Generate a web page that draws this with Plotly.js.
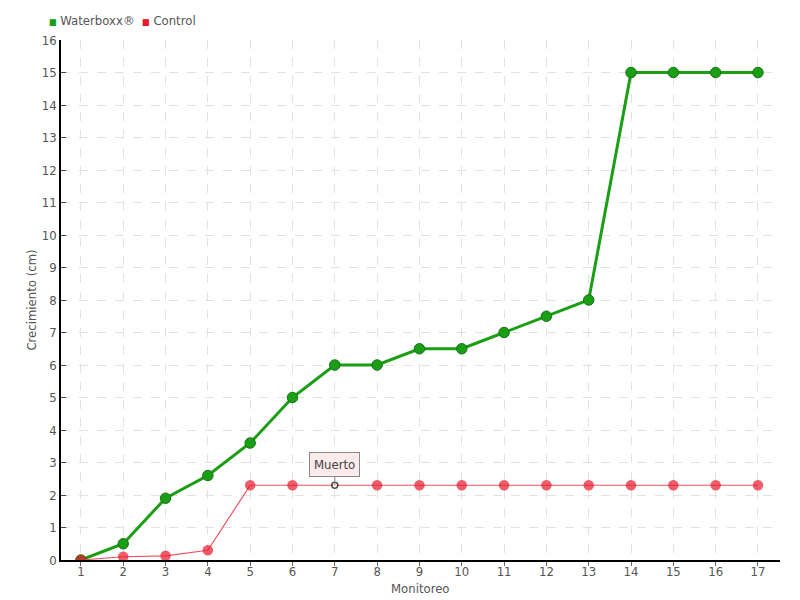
<!DOCTYPE html>
<html>
<head>
<meta charset="utf-8">
<script src="https://cdn.plot.ly/plotly-3.0.1.min.js"></script>
<style>body{margin:0;padding:0;background:#fff}#chart{width:800px;height:600px}</style>
</head>
<body>
<div id="chart"></div>
<script>
const monitoreo = [1,2,3,4,5,6,7,8,9,10,11,12,13,14,15,16,17];
const waterboxx = [0,0.5,1.9,2.6,3.6,5,6,6,6.5,6.5,7,7.5,8,15,15,15,15];
const control = [0,0.1,0.13,0.3,2.3,2.3,2.3,2.3,2.3,2.3,2.3,2.3,2.3,2.3,2.3,2.3,2.3];
const yTicks = [0,1,2,3,4,5,6,7,8,9,10,11,12,13,14,15,16];
const seriesNames = ['Waterboxx®', 'Control'];
const noteText = "Muerto";
const notePoint = 7;

const FONT = "'DejaVu Sans Condensed', 'Liberation Sans Narrow', sans-serif";
const GREEN = '#1a9e14', RED = '#e8192c';
const ctrlColors = monitoreo.map(m => m === notePoint ? '#ffffff' : RED);
const ctrlLine = monitoreo.map(m => m === notePoint ? '#000000' : RED);
const ctrlSize = monitoreo.map(m => m === notePoint ? 6 : 9);

const traces = [
  {x: monitoreo, y: waterboxx, name: seriesNames[0], mode: 'lines+markers',
   line: {color: GREEN, width: 3},
   marker: {color: GREEN, size: 10.5, line: {color: '#17731a', width: 1}}},
  {x: monitoreo, y: control, name: seriesNames[1], mode: 'lines+markers',
   line: {color: '#f0505f', width: 1.2},
   marker: {color: ctrlColors, size: ctrlSize, line: {color: ctrlLine, width: 1.5}}}
];

const legendText = '<span style="color:' + GREEN + ';font-size:9px">■</span> ' + seriesNames[0] +
  '  <span style="color:' + RED + ';font-size:9px">■</span> ' + seriesNames[1];

const layout = {
  width: 800, height: 600,
  margin: {l: 61, r: 20, t: 40, b: 40},
  paper_bgcolor: '#fff', plot_bgcolor: '#fff',
  font: {family: FONT, size: 13, color: '#555'},
  showlegend: false,
  xaxis: {range: [0.53, 17.52], tickvals: monitoreo, showgrid: true,
          gridcolor: '#e2e2e2', griddash: 'dash', zeroline: false,
          showline: true, linecolor: '#000', linewidth: 1.5,
          ticks: 'outside', ticklen: 4, tickcolor: '#666',
          ticklabelstandoff: -5,
          tickfont: {size: 13, color: '#555'}},
  yaxis: {range: [0, 16], tickvals: yTicks, showgrid: true,
          gridcolor: '#e2e2e2', griddash: 'dash', zeroline: false,
          showline: true, linecolor: '#000', linewidth: 1.5,
          ticks: 'inside', ticklen: 5, tickcolor: '#444',
          tickfont: {size: 13, color: '#555'},
          title: {text: 'Crecimiento (cm)', standoff: 2, font: {size: 13, color: '#555'}}},
  annotations: [
    {x: notePoint, y: control[notePoint - 1], xref: 'x', yref: 'y',
     text: noteText, showarrow: true, arrowhead: 0, arrowwidth: 1, arrowcolor: '#888',
     ax: 0, ay: -21, bgcolor: '#fdeaea', bordercolor: '#888', borderwidth: 1,
     borderpad: 4, font: {size: 13, color: '#444'}},
    {x: 0.5, y: 0, xref: 'paper', yref: 'paper', xanchor: 'center', yanchor: 'middle',
     showarrow: false, text: 'Monitoreo', font: {size: 13, color: '#555'}},
    {x: 0, y: 0, xref: 'paper', yref: 'paper', showarrow: false, text: legendText,
     xanchor: 'left', yanchor: 'middle', font: {size: 13, color: '#555'}}
  ]
};
// annotation positions computed in pixel terms relative to the plot area
const plotW = 800 - 61 - 20, plotH = 600 - 40 - 40;
layout.annotations[1].y = (560 - 588) / plotH;
layout.annotations[2].x = (47 - 61) / plotW;
layout.annotations[2].y = (560 - 21) / plotH;

Plotly.newPlot('chart', traces, layout, {displayModeBar: false});
</script>
</body>
</html>
